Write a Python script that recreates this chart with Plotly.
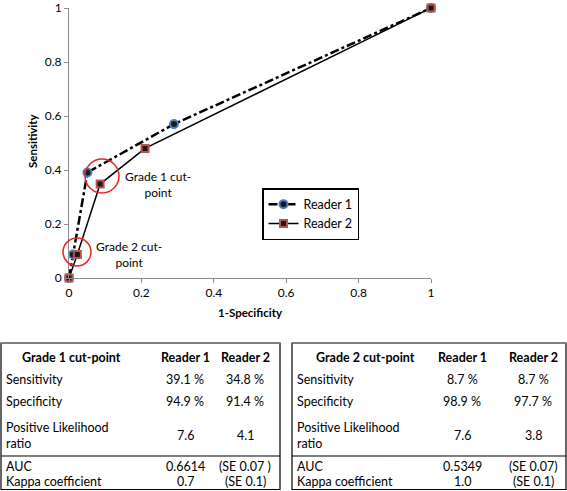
import plotly.graph_objects as go

# ---- data ----
reader1_x = [0, 0.011, 0.051, 0.29, 1]
reader1_y = [0, 0.087, 0.391, 0.57, 1]
reader2_x = [0, 0.023, 0.086, 0.21, 1]
reader2_y = [0, 0.087, 0.348, 0.48, 1]
tick_vals = [0, 0.2, 0.4, 0.6, 0.8, 1]
tick_text = ["0", "0.2", "0.4", "0.6", "0.8", "1"]

row_labels = ["Sensitivity", "Specificity", "Positive Likelihood<br>ratio", "AUC", "Kappa coefficient"]
t1_header = ["Grade 1 cut-point", "Reader 1", "Reader 2"]
t1_r1 = ["39.1 %", "94.9 %", "7.6", "0.6614", "0.7"]
t1_r2 = ["34.8 %", "91.4 %", "4.1", "(SE 0.07 )", "(SE 0.1)"]
t2_header = ["Grade 2 cut-point", "Reader 1", "Reader 2"]
t2_r1 = ["8.7 %", "98.9 %", "7.6", "0.5349", "1.0"]
t2_r2 = ["8.7 %", "97.7 %", "3.8", "(SE 0.07)", "(SE 0.1)"]

W, H = 567, 491
L, R, T, B = 69, 431, 8, 278  # plot area in pixels

def px(x):
    return (x - L) / (R - L)

def py(y):
    return (B - y) / (B - T)

FONT = "Lato"

fig = go.Figure()
fig.add_trace(go.Scatter(
    x=reader1_x, y=reader1_y, name="Reader 1", mode="lines+markers",
    line=dict(color="black", width=2.5, dash="dashdot"),
    marker=dict(symbol="circle", size=8, color="#1a1a1a", line=dict(color="#4a7fc1", width=2)),
    cliponaxis=False))
fig.add_trace(go.Scatter(
    x=reader2_x, y=reader2_y, name="Reader 2", mode="lines+markers",
    line=dict(color="black", width=1.5),
    marker=dict(symbol="square", size=7, color="#1a1a1a", line=dict(color="#c0504d", width=2)),
    cliponaxis=False))

shapes = []
annotations = []

def text(x, y, s, size=12.5, xanchor="center", align="center", angle=0):
    annotations.append(dict(xref="paper", yref="paper", x=px(x), y=py(y), text=s, showarrow=False,
                            xanchor=xanchor, yanchor="middle", align=align, textangle=angle,
                            font=dict(family=FONT, size=size, color="black")))

# red circles around cut-points
def circle(cx, cy, r):
    shapes.append(dict(type="circle", xref="paper", yref="paper",
                       x0=px(cx - r), x1=px(cx + r), y0=py(cy + r), y1=py(cy - r),
                       line=dict(color="#e8262a", width=1.5)))

circle(102, 176, 17)
circle(77, 252, 14)

text(158, 184, "Grade 1 cut-<br>point", size=12)
text(129, 254, "Grade 2 cut-<br>point", size=12)

# axis titles
text(32, 141, "<b>Sensitivity</b>", size=11.5, angle=-90)
text(250, 312, "<b>1-Specificity</b>", size=11.5)

# tables
row_y = [379, 401, 435, 466, 481]

def table(x0, x1, header, c1, c2, hx, c1x, c2x):
    top, bot, div = 343, 489.5, 456
    shapes.append(dict(type="rect", xref="paper", yref="paper", x0=px(x0), x1=px(x1), y0=py(bot), y1=py(top),
                       line=dict(color="black", width=1.2)))
    shapes.append(dict(type="line", xref="paper", yref="paper", x0=px(x0), x1=px(x1), y0=py(top), y1=py(top),
                       line=dict(color="#808080", width=1.5)))
    shapes.append(dict(type="line", xref="paper", yref="paper", x0=px(x0), x1=px(x1), y0=py(div), y1=py(div),
                       line=dict(color="black", width=1.2)))
    text(x0 + hx, 357, "<b>" + header[0] + "</b>")
    text(x0 + c1x, 357, "<b>" + header[1] + "</b>")
    text(x0 + c2x, 357, "<b>" + header[2] + "</b>")
    for lab, a, b, yy in zip(row_labels, c1, c2, row_y):
        text(x0 + 3, yy, lab, xanchor="left", align="left")
        text(x0 + c1x, yy, a)
        text(x0 + c2x, yy, b)

table(1, 280, t1_header, t1_r1, t1_r2, 70, 184, 244)
table(292, 566, t2_header, t2_r1, t2_r2, 73, 170, 241)

axis_common = dict(range=[0, 1], showgrid=False, zeroline=False, showline=True, linecolor="#8c8c8c",
                   linewidth=1, ticks="outside", ticklen=4, tickcolor="#8c8c8c",
                   tickvals=tick_vals, ticktext=tick_text, automargin=False,
                   ticklabeloverflow="allow",
                   tickfont=dict(family=FONT, size=12, color="black"))

fig.update_layout(
    width=W, height=H,
    margin=dict(l=L, r=W - R, t=T, b=H - B, autoexpand=False),
    paper_bgcolor="white", plot_bgcolor="white",
    xaxis=dict(**axis_common),
    yaxis=dict(**axis_common),
    showlegend=True,
    legend=dict(x=px(262), y=py(188), xanchor="left", yanchor="top",
                bordercolor="black", borderwidth=1.5, bgcolor="white",
                font=dict(family=FONT, size=12.5, color="black"),
                itemwidth=30, tracegroupgap=6),
    shapes=shapes, annotations=annotations,
)

fig.write_html("out.html", config={"displayModeBar": False},
               post_script="document.body.style.margin='0';document.body.style.padding='0';")
